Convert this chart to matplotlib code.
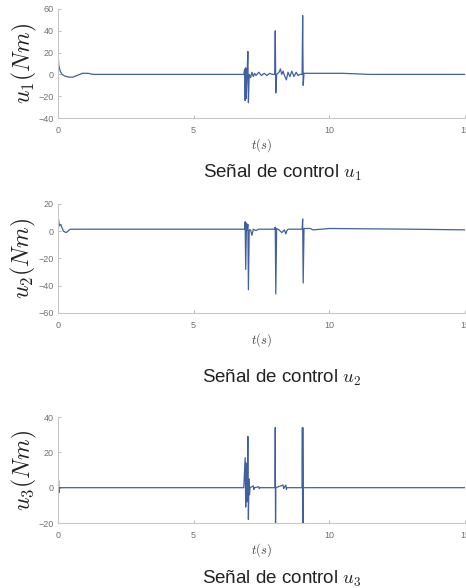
import numpy as np
import matplotlib
matplotlib.use('Agg')
import matplotlib.pyplot as plt

plt.rcParams['mathtext.fontset'] = 'cm'
plt.rcParams['font.family'] = ['Liberation Sans', 'DejaVu Sans']

# senal u1 (t, valor)
t1 = [0, 0.03, 0.08, 0.15, 0.25, 0.4, 0.55, 0.7, 0.9, 1.1, 1.3, 1.5, 3.0, 5.0,
      6.85, 6.88, 6.90, 6.92, 6.94, 6.97, 7.00, 7.02, 7.05, 7.10, 7.15, 7.2, 7.25,
      7.3, 7.4, 7.5, 7.6, 7.7, 7.8, 7.9, 7.99, 8.01, 8.03, 8.06, 8.15, 8.2, 8.25,
      8.3, 8.35, 8.42, 8.48, 8.55, 8.62, 8.7, 8.78, 8.85, 8.92, 9.0, 9.02, 9.04,
      9.07, 9.3, 10.5, 11.5, 15]
u1 = [18, 8, 3, 0, -1.5, -2.5, -2.5, -1, 1, 1, 0, 0, 0, 0,
      0, 5, -24, 6, -22, 0, 21, -26, 0, -3, 2, -2, 1,
      -1, 2, -1, 1, -1, 1, 0, 0, 40, -17, 0, 2, 5, 0,
      3, -1, -5, 2, -2, 3, -2, 2, -1, 0, 0, 54, -10,
      1, 1, 1, 0, 0]

t2 = [0, 0.05, 0.1, 0.2, 0.3, 0.45, 3.0, 6.88, 6.90, 6.92, 6.95, 6.98, 7.00, 7.02,
      7.05, 7.1, 7.15, 7.2, 7.3, 7.4, 7.99, 8.01, 8.03, 8.06, 8.15, 8.25, 8.35,
      8.4, 8.45, 8.5, 9.0, 9.02, 9.04, 9.07, 9.3, 9.4, 10.0, 13.0, 15]
u2 = [11, 4, 5, 0, -1, 1.5, 1.5, 1.5, 7, -28, 6, 1, 5, -43,
      1, 1, -3, 1.5, 0.5, 1.5, 1.5, 3, -46, 2, 1, -1, 1,
      -2, 1, 1.5, 1.5, 9, -38, 2, 2, 1, 2, 1.5, 1]

t3 = [0, 0.01, 0.02, 0.03, 0.04, 6.85, 6.9, 6.92, 6.94, 6.96, 6.98, 7.0, 7.02,
      7.04, 7.06, 7.08, 7.2, 7.22, 7.24, 7.4, 7.42, 7.44, 8.0, 8.01, 8.02, 8.03,
      8.3, 8.32, 8.4, 8.42, 8.44, 9.0, 9.01, 9.02, 9.025, 9.03, 9.04, 15]
u3 = [5, -4, 4, -3, 0, 0, 17, -11, 14, -8, 0, 29, -18,
      5, -4, 0, 1, -1, 0, 0.5, -0.5, 0, 0, 34, -25, 0,
      1.5, -0.5, 1.5, -1, 0, 0, 34, -25, 34, -25, 0, 0]

series = [(t1, u1, r'$u_1(Nm)$', (-40, 60), [-40, -20, 0, 20, 40, 60]),
          (t2, u2, r'$u_2(Nm)$', (-60, 20), [-60, -40, -20, 0, 20]),
          (t3, u3, r'$u_3(Nm)$', (-20, 40), [-20, 0, 20, 40])]
titles = [r'Señal de control $u_1$', r'Señal de control $u_2$', r'Señal de control $u_3$']

rects = [[0.1245, 0.7993, 0.873, 0.1854],
         [0.1245, 0.4677, 0.873, 0.1854],
         [0.1245, 0.1105, 0.873, 0.1803]]
title_y = [1 - 173/588, 1 - 378/588, 1 - 579/588]

fig = plt.figure(figsize=(4.66, 5.88), dpi=100)
line_color = '#4060a0'
for (t, u, lab, ylim, yt), r, ttl, ty in zip(series, rects, titles, title_y):
    ax = fig.add_axes(r)
    ax.plot(t, u, color=line_color, lw=0.9)
    ax.set_xlim(0, 15)
    ax.set_ylim(*ylim)
    ax.set_yticks(yt)
    ax.set_xticks([0, 5, 10, 15])
    for s in ['top', 'right']:
        ax.spines[s].set_visible(False)
    for s in ['left', 'bottom']:
        ax.spines[s].set_color('#c8c8c8')
        ax.spines[s].set_linewidth(0.8)
    ax.tick_params(direction='in', length=2, width=0.6, color='#b0b0b0',
                   labelsize=6.5, labelcolor='#707070')
    ax.tick_params(axis='x', pad=6)
    ax.tick_params(axis='y', pad=3)
    ax.set_ylabel(lab, fontsize=17, color='#222222', labelpad=0)
    ax.set_xlabel(r'$t(s)$', fontsize=9, color='#444444', labelpad=1)
    fig.text(282/466, ty, ttl, fontsize=13.5, ha='center', va='center', color='#222222')

fig.savefig('out.png', dpi=100)
